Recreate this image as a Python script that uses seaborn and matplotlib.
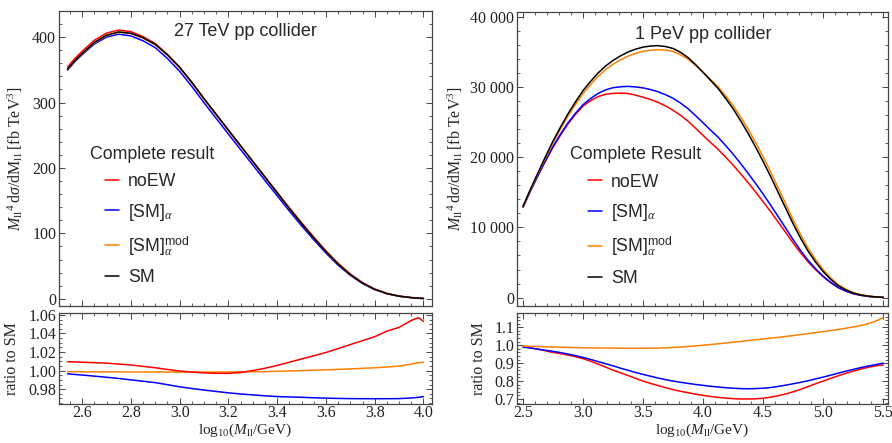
import numpy as np
import pandas as pd
import matplotlib
matplotlib.use("Agg")
import matplotlib.pyplot as plt
from matplotlib.ticker import MultipleLocator, FuncFormatter
import seaborn as sns

# ---- 27 TeV collider (left) ----
x27 = [2.54, 2.57, 2.6, 2.65, 2.7, 2.75, 2.8, 2.85, 2.9, 2.95, 3.0, 3.05, 3.1, 3.15,
       3.2, 3.25, 3.3, 3.35, 3.4, 3.45, 3.5, 3.55, 3.6, 3.65, 3.7, 3.75, 3.8, 3.85,
       3.9, 3.95, 3.98, 4.0]
sm_27 = [351, 364, 375, 392, 403, 408, 406, 399, 389, 373, 354, 331, 306, 282,
         258, 234, 210, 186, 162, 138, 115, 93, 72, 53, 37, 24, 14.5, 8,
         4, 1.8, 0.9, 0.5]
noew_27 = [354.3, 367.4, 378.4, 395.3, 406.2, 410.9, 408.4, 400.8, 390.2, 373.4, 353.8,
           330.4, 305.2, 281.2, 257.2, 233.5, 210.0, 186.5, 162.9, 139.2, 116.4, 94.5,
           73.4, 54.3, 38.0, 24.8, 15.0, 8.34, 4.19, 1.90, 0.95, 0.53]
sma_27 = [349.8, 362.5, 373.2, 389.6, 400.1, 404.5, 401.9, 394.4, 383.9, 367.3, 347.8,
          324.6, 299.6, 275.7, 251.8, 228.1, 204.5, 180.9, 157.5, 134.1, 111.7, 90.3,
          69.9, 51.4, 35.9, 23.3, 14.1, 7.76, 3.88, 1.75, 0.87, 0.49]
smmod_27 = [350.6, 363.6, 374.5, 391.5, 402.4, 407.4, 405.4, 398.4, 388.4, 372.4, 353.4,
            330.5, 305.5, 281.5, 257.6, 233.7, 209.7, 185.8, 161.9, 137.9, 115.0, 93.0,
            72.1, 53.1, 37.1, 24.1, 14.5, 8.0, 4.0, 1.8, 0.91, 0.5]
r_noew_27 = [1.0095, 1.0093, 1.009, 1.0085, 1.008, 1.007, 1.006, 1.0045, 1.003, 1.0012,
             0.9995, 0.9983, 0.9975, 0.9971, 0.997, 0.9979, 1.0, 1.0025, 1.0055, 1.009,
             1.0125, 1.016, 1.0195, 1.0237, 1.028, 1.0322, 1.0365, 1.0425, 1.0465, 1.054,
             1.057, 1.053]
r_sma_27 = [0.9965, 0.9958, 0.9952, 0.994, 0.9928, 0.9915, 0.990, 0.9885, 0.987, 0.9848,
            0.9825, 0.9807, 0.979, 0.9775, 0.976, 0.9748, 0.9738, 0.9728, 0.972, 0.9716,
            0.9712, 0.9707, 0.9703, 0.970, 0.9698, 0.9697, 0.9697, 0.9697, 0.9698, 0.9705,
            0.9712, 0.972]
r_smmod_27 = [0.9988, 0.9988, 0.9987, 0.9987, 0.9986, 0.9986, 0.9985, 0.9985, 0.9985,
              0.9984, 0.9984, 0.9984, 0.9984, 0.9984, 0.9985, 0.9986, 0.9987, 0.9989,
              0.9992, 0.9996, 1.0, 1.0004, 1.0008, 1.0013, 1.0018, 1.0024, 1.003, 1.0038,
              1.0048, 1.007, 1.0085, 1.009]

# ---- 1 PeV collider (right) ----
x1p = [2.5, 2.5625, 2.625, 2.6875, 2.75, 2.8125, 2.875, 2.9375, 3.0, 3.0625, 3.125,
       3.1875, 3.25, 3.3125, 3.375, 3.4375, 3.5, 3.5625, 3.625, 3.6875, 3.75, 3.8125,
       3.875, 3.9375, 4.0, 4.0625, 4.125, 4.1875, 4.25, 4.3125, 4.375, 4.4375, 4.5,
       4.5625, 4.625, 4.6875, 4.75, 4.8125, 4.875, 4.9375, 5.0, 5.0625, 5.125, 5.1875,
       5.25, 5.3125, 5.375, 5.4375, 5.5]
sm_1p = [13000, 15450, 17800, 20100, 22300, 24300, 26200, 27900, 29500, 30800, 32000,
         33000, 33800, 34450, 35000, 35400, 35700, 35850, 35900, 35780, 35500, 34950,
         34200, 33200, 32100, 30950, 29800, 28400, 26900, 25200, 23400, 21450, 19400,
         17250, 15000, 12750, 10500, 8450, 6600, 5050, 3700, 2600, 1700, 1100,
         650, 380, 200, 100, 40]
noew_1p = [12935, 15234, 17408, 19477, 21408, 23158, 24759, 26114, 27288, 28059, 28640,
           28974, 29102, 29145, 29085, 28851, 28560, 28214, 27823, 27300, 26696, 25968,
           25137, 24136, 23112, 22098, 21128, 20022, 18884, 17640, 16380, 15036, 13658,
           12248, 10770, 9282, 7770, 6371, 5075, 3964, 2960, 2119, 1409, 927,
           556, 329, 175, 89, 36]
sma_1p = [12870, 15203, 17408, 19537, 21542, 23304, 24916, 26282, 27494, 28367, 29088,
          29601, 29913, 30040, 30100, 30019, 29881, 29648, 29330, 28910, 28400, 27715,
          26915, 25929, 24910, 23862, 22857, 21669, 20444, 19102, 17714, 16259, 14744,
          13179, 11550, 9907, 8243, 6701, 5293, 4101, 3041, 2166, 1435, 941,
          562, 333, 177, 89, 36]
smmod_1p = [12935, 15357, 17675, 19919, 22077, 24033, 25886, 27537, 29087, 30353, 31520,
            32489, 33259, 33882, 34405, 34798, 35093, 35258, 35326, 35279, 35074, 34601,
            33961, 33084, 32100, 31074, 30038, 28755, 27357, 25742, 24008, 22104, 20079,
            17931, 15660, 13375, 11067, 8953, 7029, 5406, 3981, 2813, 1850, 1205,
            716, 422, 224, 113, 46]
r_noew_1p = [0.995, 0.986, 0.978, 0.969, 0.960, 0.953, 0.945, 0.936, 0.925, 0.911, 0.895,
             0.878, 0.861, 0.846, 0.831, 0.815, 0.800, 0.787, 0.775, 0.763, 0.752, 0.743,
             0.735, 0.727, 0.720, 0.714, 0.709, 0.705, 0.702, 0.700, 0.700, 0.701, 0.704,
             0.710, 0.718, 0.728, 0.740, 0.754, 0.769, 0.785, 0.800, 0.815, 0.829, 0.843,
             0.855, 0.867, 0.877, 0.885, 0.890]
r_sma_1p = [0.990, 0.984, 0.978, 0.972, 0.966, 0.959, 0.951, 0.942, 0.932, 0.921, 0.909,
            0.897, 0.885, 0.872, 0.860, 0.848, 0.837, 0.827, 0.817, 0.808, 0.800, 0.793,
            0.787, 0.781, 0.776, 0.771, 0.767, 0.763, 0.760, 0.758, 0.757, 0.758, 0.760,
            0.764, 0.770, 0.777, 0.785, 0.793, 0.802, 0.812, 0.822, 0.833, 0.844, 0.855,
            0.865, 0.875, 0.884, 0.892, 0.900]
r_smmod_1p = [0.995, 0.994, 0.993, 0.991, 0.990, 0.989, 0.988, 0.987, 0.986, 0.9855, 0.985,
              0.9845, 0.984, 0.9835, 0.983, 0.983, 0.983, 0.9835, 0.984, 0.986, 0.988, 0.990,
              0.993, 0.9965, 1.000, 1.004, 1.008, 1.0125, 1.017, 1.0215, 1.026, 1.0305, 1.035,
              1.0395, 1.044, 1.049, 1.054, 1.0595, 1.065, 1.0705, 1.076, 1.082, 1.088, 1.095,
              1.102, 1.110, 1.120, 1.134, 1.155]

RED, BLUE, ORANGE, BLACK = "#ff0000", "#0000ff", "#ff8000", "#000000"
labels = ["noEW", r"[SM]$_{\alpha}$", r"[SM]$_{\alpha}^{\mathsf{mod}}$", "SM"]

sns.set_style("ticks")
plt.rcParams["font.family"] = ["Liberation Serif", "DejaVu Serif"]
plt.rcParams["mathtext.fontset"] = "custom"
plt.rcParams["mathtext.rm"] = "Liberation Serif"
plt.rcParams["mathtext.it"] = "Liberation Serif:italic"
plt.rcParams["mathtext.bf"] = "Liberation Serif:bold"
plt.rcParams["mathtext.sf"] = "Liberation Sans"
plt.rcParams["xtick.direction"] = "in"
plt.rcParams["ytick.direction"] = "in"
plt.rcParams["xtick.top"] = True
plt.rcParams["ytick.right"] = True
plt.rcParams["axes.edgecolor"] = "#444444"
plt.rcParams["axes.linewidth"] = 0.9

fig = plt.figure(figsize=(8.92, 4.43), dpi=100)
ax_lt = fig.add_axes([59/892, 1-306/443, 373/892, 295/443])
ax_lb = fig.add_axes([59/892, 1-404/443, 373/892, 91/443])
ax_rt = fig.add_axes([517/892, 1-306/443, 371/892, 294/443])
ax_rb = fig.add_axes([517/892, 1-404/443, 371/892, 91/443])

lw = 1.1
def draw(ax, x, series, colors):
    for y, c in zip(series, colors):
        sns.lineplot(x=x, y=y, color=c, lw=lw, ax=ax, legend=False)

draw(ax_lt, x27, [noew_27, sma_27, smmod_27, sm_27], [RED, BLUE, ORANGE, BLACK])
draw(ax_lb, x27, [r_sma_27, r_smmod_27, r_noew_27], [BLUE, ORANGE, RED])
draw(ax_rt, x1p, [noew_1p, sma_1p, smmod_1p, sm_1p], [RED, BLUE, ORANGE, BLACK])
draw(ax_rb, x1p, [r_noew_1p, r_sma_1p, r_smmod_1p], [RED, BLUE, ORANGE])

for ax in (ax_lt, ax_lb):
    ax.set_xlim(2.505, 4.035)
    ax.xaxis.set_major_locator(MultipleLocator(0.2))
    ax.xaxis.set_minor_locator(MultipleLocator(0.05))
for ax in (ax_rt, ax_rb):
    ax.set_xlim(2.45, 5.54)
    ax.xaxis.set_major_locator(MultipleLocator(0.5))
    ax.xaxis.set_minor_locator(MultipleLocator(0.1))

ax_lt.set_ylim(-11, 440)
ax_lt.yaxis.set_major_locator(MultipleLocator(100))
ax_lt.yaxis.set_minor_locator(MultipleLocator(20))
ax_rt.set_ylim(-1200, 40700)
ax_rt.yaxis.set_major_locator(MultipleLocator(10000))
ax_rt.yaxis.set_minor_locator(MultipleLocator(2000))
ax_rt.yaxis.set_major_formatter(FuncFormatter(lambda v, p: f"{int(v):,}".replace(",", " ")))
ax_lb.set_ylim(0.964, 1.062)
ax_lb.yaxis.set_major_locator(MultipleLocator(0.02))
ax_lb.yaxis.set_minor_locator(MultipleLocator(0.005))
ax_lb.yaxis.set_major_formatter(FuncFormatter(lambda v, p: f"{v:.2f}"))
ax_rb.set_ylim(0.672, 1.18)
ax_rb.yaxis.set_major_locator(MultipleLocator(0.1))
ax_rb.yaxis.set_minor_locator(MultipleLocator(0.02))
ax_rb.yaxis.set_major_formatter(FuncFormatter(lambda v, p: f"{v:.1f}"))
ax_lb.xaxis.set_major_formatter(FuncFormatter(lambda v, p: f"{v:.1f}"))
ax_rb.xaxis.set_major_formatter(FuncFormatter(lambda v, p: f"{v:.1f}"))

for ax in (ax_lt, ax_lb, ax_rt, ax_rb):
    ax.tick_params(which="major", length=4.5, width=0.7, labelsize=11.5, pad=2,
                   colors="#444444", labelcolor="#222222")
    ax.tick_params(which="minor", length=2.3, width=0.6, colors="#444444")
    ax.set_xlabel("")
    ax.set_ylabel("")
for ax in (ax_lt, ax_rt):
    ax.tick_params(labelbottom=False)
for ax in (ax_lb, ax_rb):
    ax.tick_params(axis="x", pad=1)

ylab_top = r"$M_{\mathrm{ll}}{}^{4}\,\mathrm{d}\sigma/\mathrm{dM}_{\mathrm{ll}}$ [fb TeV$^{3}$]"
xlab = r"log$_{10}$($M_{\mathrm{ll}}$/GeV)"
ax_lt.set_ylabel(ylab_top, fontsize=11.5)
ax_rt.set_ylabel(ylab_top, fontsize=11.5)
ax_lb.set_ylabel("ratio to SM", fontsize=11.5)
ax_rb.set_ylabel("ratio to SM", fontsize=11.5)
ax_lt.yaxis.set_label_coords(-0.091, 0.5)
ax_rt.yaxis.set_label_coords(-0.14, 0.5)
ax_lb.yaxis.set_label_coords(-0.105, 0.5)
ax_rb.yaxis.set_label_coords(-0.081, 0.5)
ax_lb.set_xlabel(xlab, fontsize=11, labelpad=0.5)
ax_rb.set_xlabel(xlab, fontsize=11, labelpad=0.5)

sans = "Liberation Sans"
ax_lt.text(0.499, 0.929, "27 TeV pp collider", transform=ax_lt.transAxes,
           ha="center", va="center", family=sans, fontsize=13)
ax_rt.text(0.501, 0.925, "1 PeV pp collider", transform=ax_rt.transAxes,
           ha="center", va="center", family=sans, fontsize=13)
ax_lt.text(0.083, 0.512, "Complete result", transform=ax_lt.transAxes,
           ha="left", va="center", family=sans, fontsize=12.8)
ax_rt.text(0.143, 0.514, "Complete Result", transform=ax_rt.transAxes,
           ha="left", va="center", family=sans, fontsize=12.8)

for ax, x0 in ((ax_lt, 0.123), (ax_rt, 0.191)):
    handles = [plt.Line2D([], [], color=c, lw=lw) for c in (RED, BLUE, ORANGE, BLACK)]
    ax.legend(handles, labels, loc="upper left", bbox_to_anchor=(x0, 0.45),
              frameon=False, borderpad=0, borderaxespad=0, handlelength=0.8,
              handletextpad=0.5, labelspacing=0.64,
              prop={"family": [sans, "DejaVu Sans"], "size": 12.8})

fig.savefig("out.png", dpi=100)
